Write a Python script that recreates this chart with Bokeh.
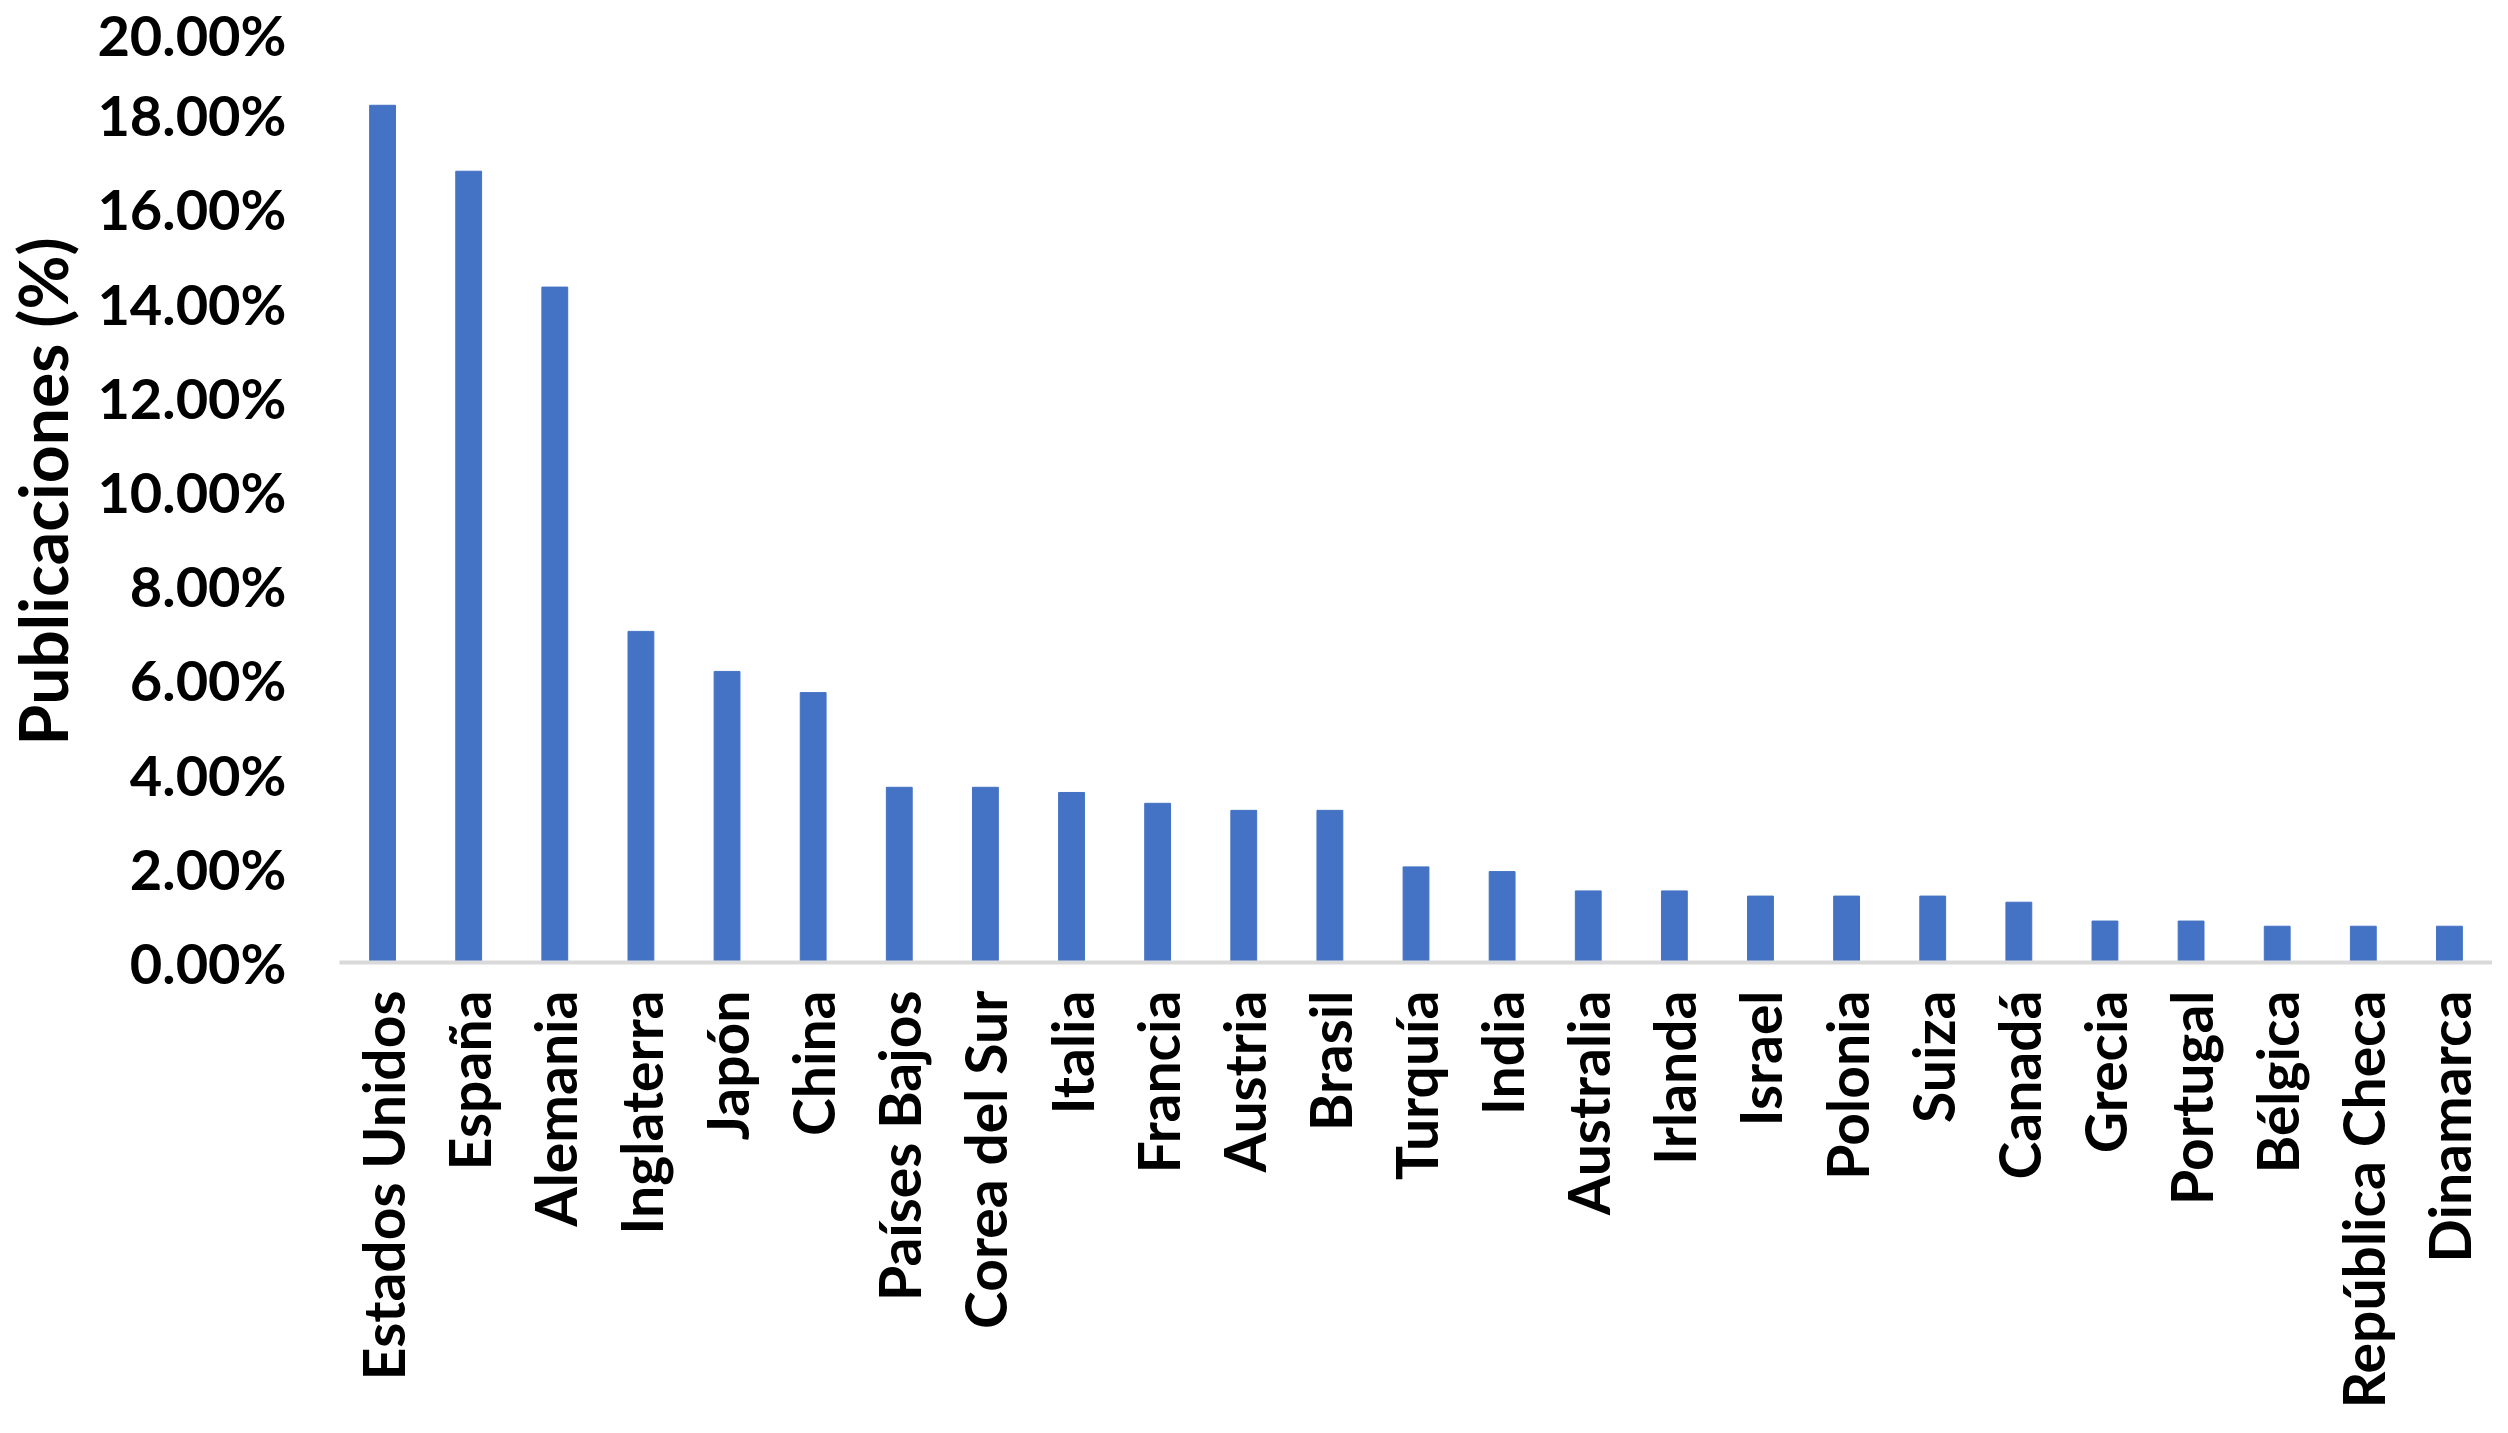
from bokeh.plotting import figure
from bokeh.models import NumeralTickFormatter, FixedTicker, Range1d
from bokeh.embed import file_html
from bokeh.resources import INLINE
import math

countries = ["Estados Unidos", "España", "Alemania", "Inglaterra", "Japón", "China",
             "Países Bajos", "Corea del Sur", "Italia", "Francia", "Austria", "Brasil",
             "Turquía", "India", "Australia", "Irlanda", "Israel", "Polonia", "Suiza",
             "Canadá", "Grecia", "Portugal", "Bélgica", "República Checa", "Dinamarca"]
percent = [18.2, 16.8, 14.34, 7.03, 6.18, 5.73,
           3.72, 3.72, 3.61, 3.38, 3.23, 3.23,
           2.03, 1.93, 1.52, 1.52, 1.41, 1.41, 1.41,
           1.28, 0.88, 0.88, 0.77, 0.77, 0.77]
shares = [v / 100 for v in percent]
y_ticks = [0.0, 0.02, 0.04, 0.06, 0.08, 0.10, 0.12, 0.14, 0.16, 0.18, 0.20]

FONT = "Lato"

p = figure(x_range=countries, y_range=Range1d(0, 0.20), title_location=None,
           width=2492, height=1417, output_backend="svg", toolbar_location=None,
           min_border_left=334, min_border_right=0, min_border_top=20, min_border_bottom=455)

p.vbar(x=countries, top=shares, width=0.30, color="#4472C4")

p.x_range.range_padding = 0
p.outline_line_color = None
p.xgrid.grid_line_color = None
p.ygrid.grid_line_color = None
p.background_fill_color = "white"

yax = p.yaxis[0]
yax.ticker = FixedTicker(ticks=y_ticks)
yax.formatter = NumeralTickFormatter(format="0.00%")
yax.axis_line_color = None
yax.major_tick_line_color = None
yax.minor_tick_line_color = None
yax.major_tick_out = 0
yax.major_label_standoff = 53
yax.major_label_text_font = FONT
yax.major_label_text_font_style = "bold"
yax.major_label_text_font_size = "56px"
yax.major_label_text_color = "black"
yax.axis_label = "Publicaciones (%)"
yax.axis_label_text_font = FONT
yax.axis_label_text_font_style = "bold"
yax.axis_label_text_font_size = "66px"
yax.axis_label_text_color = "black"
yax.axis_label_standoff = 12

xax = p.xaxis[0]
xax.axis_line_color = "#d9d9d9"
xax.axis_line_width = 4
xax.major_tick_line_color = None
xax.minor_tick_line_color = None
xax.major_tick_out = 0
xax.major_label_orientation = math.pi / 2
xax.major_label_standoff = 28
xax.major_label_text_font = FONT
xax.major_label_text_font_style = "bold"
xax.major_label_text_font_size = "57px"
xax.major_label_text_color = "black"

open("out.html", "w").write(file_html(p, INLINE))
